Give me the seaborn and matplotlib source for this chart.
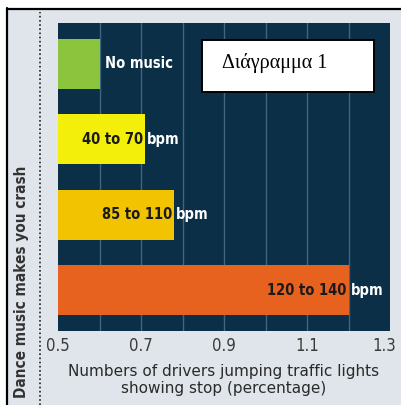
import matplotlib
matplotlib.use("Agg")
import matplotlib.pyplot as plt
import matplotlib.transforms as mtransforms
import seaborn as sns
import pandas as pd
from matplotlib.patches import Rectangle
from matplotlib.lines import Line2D

categories = ["No music", "40 to 70", "85 to 110", "120 to 140"]
values = [0.60, 0.71, 0.78, 1.20]
bar_colors = ["#8cc43e", "#f4ef0a", "#f1c300", "#e7621f"]
xticks = [0.5, 0.7, 0.9, 1.1, 1.3]
xlabel = "Numbers of drivers jumping traffic lights\nshowing stop (percentage)"
ylabel = "Dance music makes you crash"
box_text = "Διάγραμμα 1"

df = pd.DataFrame({"cat": categories, "val": values})

sns.set_style("white")
plt.rcParams["font.family"] = ["DejaVu Sans"]

fig = plt.figure(figsize=(4.01, 4.05), dpi=100)
fig.patch.set_facecolor("#dfe5eb")
ax = fig.add_axes([58/401, 1-331/405, 332/401, 308/405])
ax.set_facecolor("#0c2f48")

sns.barplot(data=df, x="val", y="cat", hue="cat", palette=bar_colors,
            orient="h", width=0.66, legend=False, ax=ax, saturation=1)
ax.set_xlim(0.5, 1.3)
ax.set_ylim(3.54, -0.54)
for p in ax.patches:
    p.set_edgecolor("none")
    p.set_zorder(3)
for gx in [0.6, 0.7, 0.8, 0.9, 1.0, 1.1, 1.2]:
    ax.axvline(gx, color="#3f6681", lw=1.0, zorder=1)

for s in ax.spines.values():
    s.set_visible(False)
ax.set_yticks([])
ax.set_ylabel("")
ax.set_xticks(xticks)
ax.set_xticklabels([f"{t:.1f}" for t in xticks])
ax.tick_params(axis="x", length=0, pad=4, labelsize=12, labelcolor="#3a3a3a")
for lab in ax.get_xticklabels():
    lab.set_fontstretch("condensed")
last = ax.get_xticklabels()[-1]
last.set_transform(last.get_transform() + mtransforms.ScaledTranslation(-6/100, 0, fig.dpi_scale_trans))
ax.set_xlabel(xlabel, fontsize=11, color="#2a2a2a", labelpad=7, linespacing=1.15)

fs = 10.5
tkw = dict(fontsize=fs, fontweight="bold", va="center", fontstretch="condensed")
for i, (c, v) in enumerate(zip(categories, values)):
    if c == "No music":
        ax.text(v + 0.013, i, c, color="white", ha="left", **tkw)
    else:
        ax.text(v - 0.005, i, c, color="#1a1a1a", ha="right", zorder=5, **tkw)
        ax.text(v + 0.005, i, "bpm", color="white", ha="left", zorder=5, **tkw)

# Greek label box
fig.add_artist(Rectangle((202/401, 1-92/405), 172/401, 52/405, transform=fig.transFigure,
                         facecolor="white", edgecolor="black", lw=1.4, zorder=10))
fig.text(222/401, 1-63/405, box_text, ha="left", va="center", fontsize=14.5,
         family=["Liberation Serif", "DejaVu Serif"], color="black", zorder=11)

# y label
fig.text(22/401, 1-398/405, ylabel, rotation=90, ha="center", va="bottom",
         fontsize=11, fontweight="bold", color="#333333", fontstretch="condensed")

# frame lines
fig.add_artist(Rectangle((0, 0), 6/401, 1, transform=fig.transFigure,
                         facecolor="white", edgecolor="none", zorder=0))
fig.add_artist(Rectangle((0, 1-8/405), 1, 8/405, transform=fig.transFigure,
                         facecolor="white", edgecolor="none", zorder=0))
fig.add_artist(Line2D([6.5/401, 6.5/401], [0, 1-8/405], transform=fig.transFigure,
                      color="black", lw=1.6))
fig.add_artist(Line2D([6.5/401, 1], [1-8.5/405, 1-8.5/405], transform=fig.transFigure,
                      color="black", lw=1.6))
fig.add_artist(Line2D([40/401, 40/401], [0, 1-12/405], transform=fig.transFigure,
                      color="#222222", lw=1.2, ls=(0, (1, 1.5))))

fig.savefig("out.png", dpi=100)
